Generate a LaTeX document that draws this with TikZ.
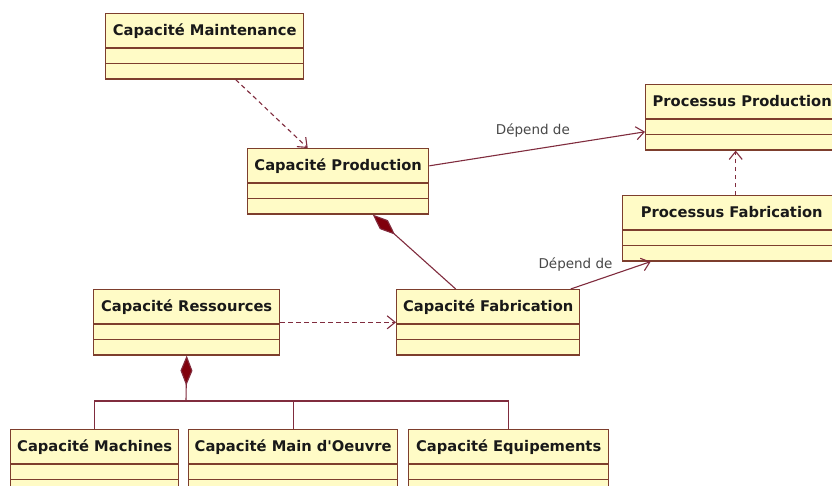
\documentclass[tikz,border=0pt]{standalone}
\usepackage{fontspec}
\setmainfont{DejaVu Sans}
\usepackage{tikz}
\usetikzlibrary{arrows.meta,calc,positioning,shapes.multipart}
\definecolor{jauneclasse}{RGB}{255,251,198}
\definecolor{bordclasse}{RGB}{125,62,45}
\definecolor{lienbrun}{RGB}{128,44,62}
\definecolor{rougecompo}{RGB}{128,0,12}
\definecolor{grislabel}{RGB}{72,72,72}
\tikzset{
  classe/.style={
    rectangle split,
    rectangle split parts=3,
    draw=bordclasse,
    fill=jauneclasse,
    line width=1.4pt,
    inner xsep=5pt,
    inner ysep=0pt,
    rectangle split empty part height=14pt,
    rectangle split empty part depth=0pt,
    anchor=north west,
    text=black!90,
    font=\bfseries\fontsize{14.7}{16}\selectfont,
    execute at begin node={\rule[-12pt]{0pt}{33pt}}
  },
  depend/.style={
    -{Straight Barb[length=8pt,width=13pt]},
    line width=1.1pt,
    dash pattern=on 4.5pt off 3.5pt,
    lienbrun
  },
  assoc/.style={
    -{Straight Barb[length=8pt,width=13pt]},
    line width=1.1pt,
    lienbrun
  },
  compo/.style={
    {Diamond[length=30pt,width=12pt,fill=rougecompo]}-,
    line width=1.1pt,
    lienbrun
  },
  ligne/.style={
    line width=1.1pt,
    lienbrun
  },
  etiquette/.style={
    text=grislabel,
    font=\fontsize{13.5}{15}\selectfont,
    inner sep=2pt
  }
}
\begin{document}
\begin{tikzpicture}[x=1pt,y=-1pt]
\fill[white] (0,0) rectangle (832,485);
\clip (0,0) rectangle (832,485);
% classes
\node[classe,minimum width=198pt] (maint) at (105,13) {Capacité Maintenance};
\node[classe,minimum width=181pt] (prod) at (247,148) {Capacité Production};
\node[classe,minimum width=193pt] (procprod) at (645,84) {Processus Production};
\node[classe,minimum width=218pt] (procfab) at (622,195) {Processus Fabrication};
\node[classe,minimum width=186pt] (ress) at (93,289) {Capacité Ressources};
\node[classe,minimum width=183pt] (fab) at (396,289) {Capacité Fabrication};
\node[classe,minimum width=168pt] (mach) at (10,429) {Capacité Machines};
\node[classe,minimum width=209pt] (main) at (188,429) {Capacité Main d\textquotesingle Oeuvre};
\node[classe,minimum width=200pt] (equip) at (408,429) {Capacité Equipements};
\coordinate (bus) at (186,401);
% liens
\draw[depend] ([xshift=31pt]maint.south) -- ([xshift=-30.5pt]prod.north);
\draw[assoc] ([yshift=15.5pt]prod.east) -- node[etiquette,pos=.48,above=10pt] (dep1) {Dépend de} ([yshift=-14.5pt]procprod.west);
\draw[depend] ([xshift=4pt]procfab.north) -- ([xshift=-6.5pt]procprod.south);
\draw[assoc] ([xshift=82.5pt]fab.north) -- node[etiquette,pos=.06,above=14pt] (dep2) {Dépend de} ([xshift=-81pt]procfab.south);
\draw[compo] ([xshift=34.5pt]prod.south) -- ([xshift=-32.5pt]fab.north);
\draw[depend] (ress.east) -- (fab.west);
\draw[compo] (ress.south) -- (bus);
\draw[ligne] (mach.north) |- (equip.north |- bus) -- (equip.north);
\draw[ligne] (main.north) -- (main.north |- bus);
\end{tikzpicture}
\end{document}
